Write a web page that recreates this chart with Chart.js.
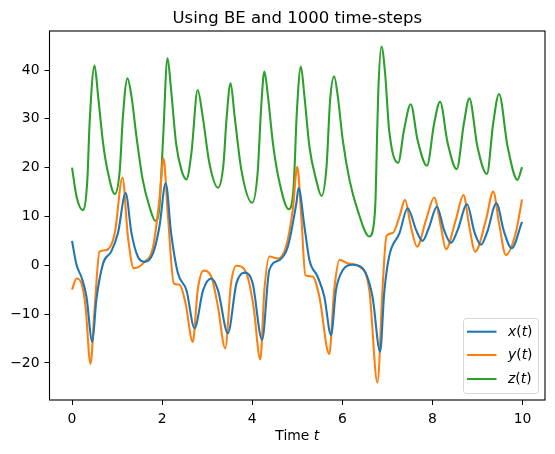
<!DOCTYPE html>
<html>
<head>
<meta charset="utf-8">
<script src="https://cdn.jsdelivr.net/npm/chart.js@4.4.1/dist/chart.umd.min.js"></script>
<style>
  html, body { margin: 0; padding: 0; background: #fff; }
  #wrap { width: 555px; height: 454px; }
</style>
</head>
<body>
<div id="wrap"><canvas id="lorenzChart" width="555" height="454"></canvas></div>
<script>
// values
const xTimes = [0, 0.10, 0.22, 0.32, 0.45, 0.54, 0.69, 0.87, 1.02, 1.19, 1.32, 1.46, 1.61, 1.80, 1.94, 2.08,
  2.20, 2.35, 2.54, 2.72, 2.91, 3.09, 3.24, 3.46, 3.65, 3.83, 4.01, 4.22, 4.38, 4.61, 4.79, 4.98, 5.03,
  5.16, 5.27, 5.45, 5.60, 5.75, 5.86, 6.01, 6.23, 6.45, 6.67, 6.84, 6.93, 7.04, 7.27, 7.45, 7.64, 7.78,
  7.93, 8.10, 8.26, 8.41, 8.56, 8.77, 8.93, 9.08, 9.22, 9.42, 9.59, 9.76, 9.99];
const xValues = [5.0, 0.1, -2.7, -6.4, -15.7, -7.1, 0.4, 2.8, 6.6, 14.8, 6.6, 1.8, 0.7, 2.5, 7.9, 16.8,
  6.6, -1.6, -5.1, -12.9, -5.1, -2.7, -5.1, -13.9, -3.7, -1.5, -3.7, -15.3, -1.0, 1.1, 3.8, 12.7, 15.8,
  7.9, 1.1, -2.3, -6.4, -14.3, -5.1, -1.0, 0.1, -0.6, -6.4, -17.7, -5.7, 1.8, 6.6, 11.7, 7.2, 5.0,
  7.9, 12.0, 7.2, 4.6, 7.2, 12.5, 6.9, 4.2, 6.9, 12.7, 6.9, 3.5, 8.9];

const yTimes = [0, 0.10, 0.21, 0.30, 0.41, 0.50, 0.61, 0.76, 0.95, 1.12, 1.24, 1.37, 1.61, 1.80, 1.94, 2.03,
  2.13, 2.26, 2.39, 2.52, 2.68, 2.79, 2.92, 3.09, 3.24, 3.40, 3.53, 3.65, 3.87, 4.03, 4.18, 4.27, 4.38,
  4.57, 4.75, 4.90, 5.00, 5.09, 5.18, 5.34, 5.49, 5.71, 5.82, 5.94, 6.12, 6.38, 6.60, 6.78, 6.90, 6.98,
  7.12, 7.27, 7.39, 7.53, 7.66, 7.86, 8.04, 8.19, 8.30, 8.52, 8.69, 8.82, 8.95, 9.19, 9.35, 9.48, 9.63,
  9.85, 9.99];
const yValues = [-5.0, -2.7, -3.7, -8.5, -20.2, -9.2, 2.8, 3.1, 6.6, 18.0, 5.9, -0.6, 0.7, 3.8, 13.4, 21.9,
  10.0, -3.7, -4.0, -7.8, -15.7, -5.1, -1.1, -2.3, -8.5, -17.0, -3.7, -0.1, -1.6, -8.5, -19.3, -5.1, 1.8,
  1.4, 3.8, 11.3, 20.2, 10.0, -2.0, -2.3, -6.4, -18.2, -5.1, 1.1, 0.4, -0.3, -5.1, -24.0, -3.7, 6.0,
  6.6, 10.0, 13.4, 7.6, 3.8, 9.3, 13.9, 7.9, 3.3, 9.3, 14.4, 7.9, 2.8, 9.3, 15.1, 8.6, 2.1,
  6.6, 13.5];

const zTimes = [0, 0.10, 0.24, 0.34, 0.39, 0.50, 0.58, 0.69, 0.80, 0.95, 1.06, 1.13, 1.23, 1.32, 1.43, 1.57,
  1.72, 1.85, 1.94, 2.02, 2.12, 2.20, 2.31, 2.43, 2.54, 2.65, 2.79, 2.90, 3.05, 3.24, 3.36, 3.43, 3.52,
  3.61, 3.76, 4.00, 4.12, 4.20, 4.27, 4.35, 4.46, 4.61, 4.81, 4.92, 4.99, 5.08, 5.16, 5.27, 5.42, 5.54,
  5.65, 5.73, 5.82, 5.90, 6.01, 6.16, 6.34, 6.60, 6.71, 6.74, 6.77, 6.80, 6.87, 6.95, 7.04, 7.24, 7.37,
  7.52, 7.67, 7.88, 8.04, 8.17, 8.34, 8.54, 8.70, 8.82, 9.00, 9.21, 9.35, 9.48, 9.67, 9.89, 9.99];
const zValues = [20.0, 14.1, 11.3, 17.5, 29.1, 40.9, 34.6, 25.0, 18.9, 14.6, 19.5, 30.5, 38.3, 34.6, 26.4, 17.5,
  12.0, 9.1, 12.0, 25.7, 42.4, 35.9, 25.0, 19.5, 17.6, 23.0, 35.9, 30.5, 20.9, 15.9, 20.5, 30.0, 37.3,
  30.5, 19.5, 12.8, 18.9, 32.5, 39.7, 34.6, 25.0, 16.8, 11.5, 16.1, 31.2, 40.7, 34.6, 24.3, 17.5, 14.2,
  20.2, 33.9, 38.7, 34.6, 25.7, 17.5, 11.3, 5.9, 9.3, 14.1, 25.7, 35.9, 44.8, 39.4, 27.7, 21.0, 27.7,
  33.0, 25.7, 20.4, 29.1, 33.5, 25.0, 19.7, 29.1, 34.2, 24.3, 18.7, 29.1, 35.1, 24.3, 17.5, 20.1];

const seriesLabels = ['x(t)', 'y(t)', 'z(t)'];
const seriesColors = ['#1f77b4', '#ff7f0e', '#2ca02c'];
const xTicks = [0, 2, 4, 6, 8, 10];
const yTicks = [-20, -10, 0, 10, 20, 30, 40];
const chartTitle = 'Using BE and 1000 time-steps';

const FONT = 'DejaVu Sans';

const toPoints = (ts, vs) => ts.map((t, i) => ({ x: t, y: vs[i] }));

const makeDataset = (i, ts, vs) => ({
  label: seriesLabels[i],
  data: toPoints(ts, vs),
  borderColor: seriesColors[i],
  borderWidth: 2.1,
  pointRadius: 0,
  fill: false,
  cubicInterpolationMode: 'monotone'
});

// frame, title over the axes, x axis title and the legend box, matplotlib style
const mplDecor = {
  id: 'mplDecor',
  afterDraw(chart) {
    const { ctx, chartArea: a } = chart;
    const cx = (a.left + a.right) / 2;
    ctx.save();
    ctx.strokeStyle = '#000';
    ctx.lineWidth = 1.1;
    ctx.strokeRect(a.left, a.top, a.right - a.left, a.bottom - a.top);

    // title, centred on the axes like matplotlib
    ctx.fillStyle = '#000';
    ctx.textAlign = 'center';
    ctx.textBaseline = 'alphabetic';
    ctx.font = `16.5px "${FONT}"`;
    ctx.fillText(chartTitle, cx, 22.5);

    // x axis title "Time t"
    ctx.textBaseline = 'middle';
    ctx.textAlign = 'left';
    ctx.font = `13.9px "${FONT}"`;
    const w1 = ctx.measureText('Time ').width;
    ctx.font = `italic 13.9px "${FONT}"`;
    const w2 = ctx.measureText('t').width;
    const x0 = cx - (w1 + w2) / 2;
    ctx.font = `13.9px "${FONT}"`;
    ctx.fillText('Time ', x0, 436);
    ctx.font = `italic 13.9px "${FONT}"`;
    ctx.fillText('t', x0 + w1, 436);

    // legend
    const bx = 463.5, by = 318.5, bw = 75, bh = 75, r = 3;
    ctx.beginPath();
    ctx.moveTo(bx + r, by);
    ctx.arcTo(bx + bw, by, bx + bw, by + bh, r);
    ctx.arcTo(bx + bw, by + bh, bx, by + bh, r);
    ctx.arcTo(bx, by + bh, bx, by, r);
    ctx.arcTo(bx, by, bx + bw, by, r);
    ctx.closePath();
    ctx.fillStyle = 'rgba(255,255,255,0.8)';
    ctx.fill();
    ctx.strokeStyle = '#d6d6d6';
    ctx.lineWidth = 1;
    ctx.stroke();

    const rows = [331.7, 355, 379];
    chart.data.datasets.forEach((ds, i) => {
      const ry = rows[i];
      ctx.strokeStyle = ds.borderColor;
      ctx.lineWidth = 2.1;
      ctx.beginPath();
      ctx.moveTo(467, ry);
      ctx.lineTo(496.5, ry);
      ctx.stroke();
      // label like mathtext: letters italic, brackets upright
      let tx = 508;
      ctx.fillStyle = '#000';
      for (const ch of ds.label) {
        ctx.font = /[a-z]/.test(ch) ? `italic 13.9px "${FONT}"` : `13.9px "${FONT}"`;
        ctx.fillText(ch, tx, ry + 0.5);
        tx += ctx.measureText(ch).width;
      }
    });
    ctx.restore();
  }
};

const ctx = document.getElementById('lorenzChart').getContext('2d');
const lorenzChart = new Chart(ctx, {
  type: 'line',
  data: {
    datasets: [
      makeDataset(0, xTimes, xValues),
      makeDataset(1, yTimes, yValues),
      makeDataset(2, zTimes, zValues)
    ]
  },
  options: {
    responsive: false,
    animation: false,
    devicePixelRatio: 1,
    layout: { padding: { left: 0, right: 10, top: 31, bottom: 0 } },
    plugins: {
      legend: { display: false },
      tooltip: { enabled: false },
      title: { display: false }
    },
    scales: {
      x: {
        type: 'linear',
        min: -0.5,
        max: 10.5,
        afterBuildTicks: (scale) => { scale.ticks = xTicks.map(v => ({ value: v })); },
        afterFit: (scale) => { scale.height = 54; },
        grid: { display: true, drawOnChartArea: false, drawTicks: true, tickLength: 5, color: '#000', tickWidth: 1 },
        border: { display: false },
        ticks: {
          color: '#000',
          padding: 6,
          maxRotation: 0,
          font: { family: FONT, size: 13.9 },
          callback: (v) => String(v)
        }
      },
      y: {
        type: 'linear',
        min: -27.6,
        max: 48.0,
        afterBuildTicks: (scale) => { scale.ticks = yTicks.map(v => ({ value: v })); },
        afterFit: (scale) => { scale.width = 49.5; },
        grid: { display: true, drawOnChartArea: false, drawTicks: true, tickLength: 5, color: '#000', tickWidth: 1 },
        border: { display: false },
        ticks: {
          color: '#000',
          padding: 5,
          font: { family: FONT, size: 13.9 },
          callback: (v) => String(v).replace('-', '\u2212')
        }
      }
    }
  },
  plugins: [mplDecor]
});
</script>
</body>
</html>
